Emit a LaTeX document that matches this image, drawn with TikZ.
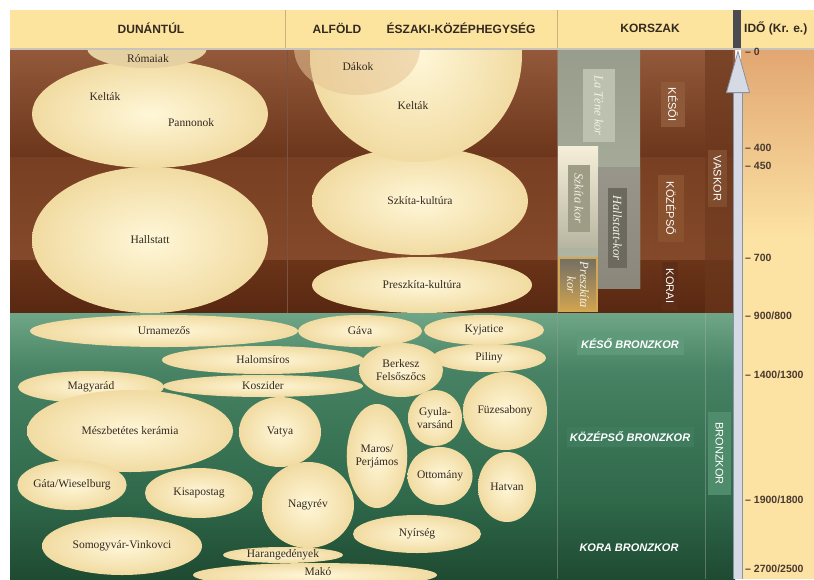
\documentclass[tikz,border=0pt]{standalone}
\usepackage{fontspec}
\setmainfont{Liberation Serif}
\setsansfont{Liberation Sans}
\usetikzlibrary{shapes.geometric,arrows.meta}
\definecolor{hdr}{HTML}{FDE49E}
\definecolor{hdrline}{HTML}{C9B27E}
\definecolor{darkbar}{HTML}{4B4A50}
\definecolor{rule}{HTML}{C8C4BA}
\definecolor{ink}{HTML}{33291F}
\definecolor{tickink}{HTML}{4A3A2E}
\definecolor{creamlt}{HTML}{FFF7D8}
\definecolor{creamdk}{HTML}{F1DBA2}
\definecolor{romai}{HTML}{E5D0A2}
\definecolor{dakok}{HTML}{E6C494}
\definecolor{brA}{HTML}{93593A}
\definecolor{brB}{HTML}{6C361C}
\definecolor{brC}{HTML}{783F22}
\definecolor{brD}{HTML}{84492A}
\definecolor{brE}{HTML}{6A3418}
\definecolor{brF}{HTML}{592812}
\definecolor{grA}{HTML}{6FA687}
\definecolor{grB}{HTML}{468263}
\definecolor{grC}{HTML}{2F684A}
\definecolor{grD}{HTML}{1E4A31}
\definecolor{axtop}{HTML}{E2A671}
\definecolor{axbg}{HTML}{FCE3A4}
\definecolor{axisfill}{HTML}{D6DAE5}
\definecolor{axisline}{HTML}{8991A5}
\definecolor{lateneIn}{HTML}{BDC1AF}
\definecolor{latene}{HTML}{A5AB97}
\definecolor{szkitaIn}{HTML}{9E9C85}
\definecolor{hallIn}{HTML}{7F7B6F}
\definecolor{preszk}{HTML}{D4A852}
\definecolor{perA}{HTML}{8E5938}
\definecolor{perB}{HTML}{8A512F}
\definecolor{perC}{HTML}{5E2D17}
\definecolor{perD}{HTML}{804C2E}
\definecolor{colR}{HTML}{6C381D}
\definecolor{paper}{HTML}{F4F1E4}
\definecolor{grLbl}{HTML}{5E997A}
\definecolor{grLblB}{HTML}{3F7B5D}
\definecolor{grLblC}{HTML}{4F8C6C}
\begin{document}
\begin{tikzpicture}
    [
    x=1pt, y=-1pt,
    blob/.style={ellipse,inner sep=0pt,shading=radial,inner color=creamlt,outer color=creamdk,text=ink,font=\fontsize{11.5}{13}\selectfont,align=center},
    flatblob/.style={ellipse,inner sep=0pt,text=ink,font=\fontsize{11.5}{13}\selectfont},
    tag/.style={inner sep=0pt,text=ink,font=\fontsize{11.5}{13}\selectfont},
    header/.style={inner sep=0pt,text=ink,font=\sffamily\bfseries\fontsize{12}{14}\selectfont},
    period/.style={rotate=-90,inner sep=0pt,text=white,font=\sffamily\fontsize{11}{12}\selectfont},
    culture/.style={rotate=-90,inner sep=0pt,text=paper,font=\itshape\fontsize{12.5}{13}\selectfont,align=center},
    bronze/.style={inner sep=0pt,text=white,font=\sffamily\bfseries\itshape\fontsize{11}{12}\selectfont},
    tick/.style={anchor=west,inner sep=0pt,text=tickink,font=\sffamily\bfseries\fontsize{10.5}{12}\selectfont}
    ]
    \useasboundingbox (0,0) rectangle (814,579);
    \shade [top color=brA, bottom color=brB] (10,50) rectangle (735,157);
    \shade [top color=brC, bottom color=brD] (10,157) rectangle (735,260);
    \shade [top color=brE, bottom color=brF] (10,260) rectangle (735,313);
    \shade [top color=grA, bottom color=grB] (10,313) rectangle (735,372);
    \shade [top color=grB, bottom color=grC] (10,372) rectangle (735,500);
    \shade [top color=grC, bottom color=grD] (10,500) rectangle (735,579);
    \shade [top color=axtop, bottom color=axbg] (741,49) rectangle (814,240);
    \fill [axbg] (741,240) rectangle (814,579);
    \draw [brF!80, line width=0.6pt] (287,50) -- (287,313);
    \draw [black!40, opacity=0.5, line width=0.6pt] (557,50) -- (557,579);
    \draw [black!30, opacity=0.4, line width=0.6pt] (705,313) -- (705,579);

    \begin{scope}
    \clip (10,50) rectangle (557,579);
    \node (hallstatt) at (150,240) [blob, minimum width=236pt, minimum height=146pt] {Hallstatt};
    \node (keltakD) at (150,114) [blob, minimum width=236pt, minimum height=108pt] {};
    \node (keltakDlbl) at (105,97) [tag] {Kelták};
    \node (pannonok) at (191,123) [tag] {Pannonok};
    \node (romaiak) at (147,48) [flatblob, fill=romai, minimum width=120pt, minimum height=40pt] {};
    \node (romaiaklbl) at (148,59) [tag] {Rómaiak};
    \node (preszkita) at (422,285) [blob, minimum width=220pt, minimum height=56pt] {Preszkíta-kultúra};
    \node (szkita) at (420,201) [blob, minimum width=216pt, minimum height=108pt] {Szkíta-kultúra};
    \node (keltakA) at (416,55) [blob, minimum width=212pt, minimum height=214pt] {};
    \node (keltakAlbl) at (413,106) [tag] {Kelták};
    \node (dakok) at (357,48) [flatblob, fill=dakok, fill opacity=0.55, minimum width=126pt, minimum height=94pt] {};
    \node (dakoklbl) at (358,67) [tag] {Dákok};

    \node (urnamezos) at (164,331) [blob, minimum width=268pt, minimum height=32pt] {Urnamezős};
    \node (gava) at (360,331) [blob, minimum width=124pt, minimum height=32pt] {Gáva};
    \node (kyjatice) at (484,330) [blob, minimum width=120pt, minimum height=30pt] {Kyjatice};
    \node (halomsiros) at (263,360) [blob, minimum width=202pt, minimum height=28pt] {Halomsíros};
    \node (piliny) at (489,358) [blob, minimum width=114pt, minimum height=28pt] {Piliny};
    \node (berkesz) at (401,370) [blob, minimum width=84pt, minimum height=54pt] {Berkesz\\Felsőszőcs};
    \node (magyarad) at (91,387) [blob, minimum width=146pt, minimum height=32pt] {Magyarád};
    \node (koszider) at (263,386) [blob, minimum width=200pt, minimum height=22pt] {Koszider};
    \node (meszbetetes) at (130,431) [blob, minimum width=206pt, minimum height=82pt] {Mészbetétes kerámia};
    \node (vatya) at (280,432) [blob, minimum width=82pt, minimum height=70pt] {Vatya};
    \node (maros) at (377,456) [blob, minimum width=58pt, minimum height=104pt] {Maros/\\Perjámos};
    \node (gyula) at (435,418) [blob, minimum width=54pt, minimum height=56pt] {Gyula-\\varsánd};
    \node (fuzesabony) at (505,411) [blob, minimum width=84pt, minimum height=78pt] {Füzesabony};
    \node (ottomany) at (440,476) [blob, minimum width=56pt, minimum height=58pt] {Ottomány};
    \node (hatvan) at (507,487) [blob, minimum width=58pt, minimum height=70pt] {Hatvan};
    \node (gata) at (72,485) [blob, minimum width=86pt, minimum height=50pt] {Gáta/Wieselburg};
    \node (kisapostag) at (199,493) [blob, minimum width=108pt, minimum height=50pt] {Kisapostag};
    \node (mako) at (315,575) [blob, minimum width=244pt, minimum height=24pt] {};
    \node (makolbl) at (318,572) [tag] {Makó};
    \node (harang) at (283,555) [blob, minimum width=120pt, minimum height=16pt] {Harangedények};
    \node (nagyrev) at (308,505) [blob, minimum width=92pt, minimum height=86pt] {Nagyrév};
    \node (nyirseg) at (417,534) [blob, minimum width=128pt, minimum height=38pt] {Nyírség};
    \node (somogyvar) at (122,546) [blob, minimum width=160pt, minimum height=58pt] {Somogyvár-Vinkovci};
    \end{scope}

    \fill [colR, opacity=0.6] (705,50) rectangle (733,313);
    \shade [top color=latene!92!black, bottom color=latene!85!white] (558,50) rectangle (640,288);
    \shade [top color=paper!85!hdr, bottom color=szkitaIn!70!paper] (558,146) rectangle (598,247);
    \shade [top color=hallIn!80!white, bottom color=hallIn!90!paper] (598,167) rectangle (640,288);
    \shade [top color=hallIn!90!black, bottom color=preszk!90!brown, draw=preszk, line width=1.5pt] (559,258) rectangle (597,311);
    \node (latene) at (599,105.5) [culture, fill=lateneIn, minimum width=73pt, minimum height=32pt] {La Tène kor};
    \node (szkitakor) at (579,198.5) [culture, fill=szkitaIn, minimum width=67pt, minimum height=22pt] {Szkíta kor};
    \node (hallstattkor) at (617.5,228) [culture, fill=hallIn!85!black, minimum width=80pt, minimum height=19pt] {Hallstatt-kor};
    \node (preszkitakor) at (578,285) [culture] {Preszkíta\\kor};
    \node (kesoi) at (673,104.5) [period, fill=perA, minimum width=45pt, minimum height=24pt] {KÉSŐI};
    \node (kozepso) at (671,208.5) [period, fill=perB, minimum width=67pt, minimum height=26pt] {KÖZÉPSŐ};
    \node (korai) at (670,286) [period, fill=perC, minimum width=48pt, minimum height=16pt] {KORAI};
    \node (vaskor) at (717.5,178.5) [period, fill=perD, minimum width=57pt, minimum height=19pt] {VASKOR};
    \node (kesobr) at (630,343.5) [bronze, fill=grLbl, minimum width=107pt, minimum height=23pt] {KÉSŐ BRONZKOR};
    \node (kozepsobr) at (630,437) [bronze, fill=grLblB, minimum width=127pt, minimum height=20pt] {KÖZÉPSŐ BRONZKOR};
    \node (korabr) at (629,548) [bronze] {KORA BRONZKOR};
    \node (bronzkor) at (719.5,453.5) [period, fill=grLblC, minimum width=83pt, minimum height=23pt] {BRONZKOR};

    \fill [hdr] (10,10) rectangle (814,48);
    \draw [hdrline, line width=0.6pt] (285,10) -- (285,48);
    \draw [hdrline, line width=0.6pt] (557,10) -- (557,48);
    \fill [darkbar] (733,10) rectangle (741,48);
    \draw [rule, line width=1.5pt] (10,49) -- (814,49);
    \node (dunantul) at (151,28) [header] {DUNÁNTÚL};
    \node (alfold) at (337,28) [header] {ALFÖLD};
    \node (eszaki) at (461,28) [header] {ÉSZAKI-KÖZÉPHEGYSÉG};
    \node (korszak) at (650,28) [header] {KORSZAK};
    \node (ido) at (744,28) [header, anchor=west] {IDŐ (Kr. e.)};

    \coordinate (axbot) at (738,579);
    \coordinate (axtop) at (738,50);
    \draw [axisline, line width=9.4pt, shorten >=40pt] (axbot) -- (axtop);
    \draw [axisfill, line width=8pt, -{Triangle[length=43pt, width=24pt, fill=axisfill, color=axisline, line width=0.8pt]}] (axbot) -- (axtop);

    \node (t0) at (745,52) [tick] {– 0};
    \node (t400) at (745,148) [tick] {– 400};
    \node (t450) at (745,166) [tick] {– 450};
    \node (t700) at (745,258) [tick] {– 700};
    \node (t900) at (745,316) [tick] {– 900/800};
    \node (t1400) at (745,375) [tick] {– 1400/1300};
    \node (t1900) at (745,500) [tick] {– 1900/1800};
    \node (t2700) at (745,569) [tick] {– 2700/2500};
  \end{tikzpicture}
\end{document}
